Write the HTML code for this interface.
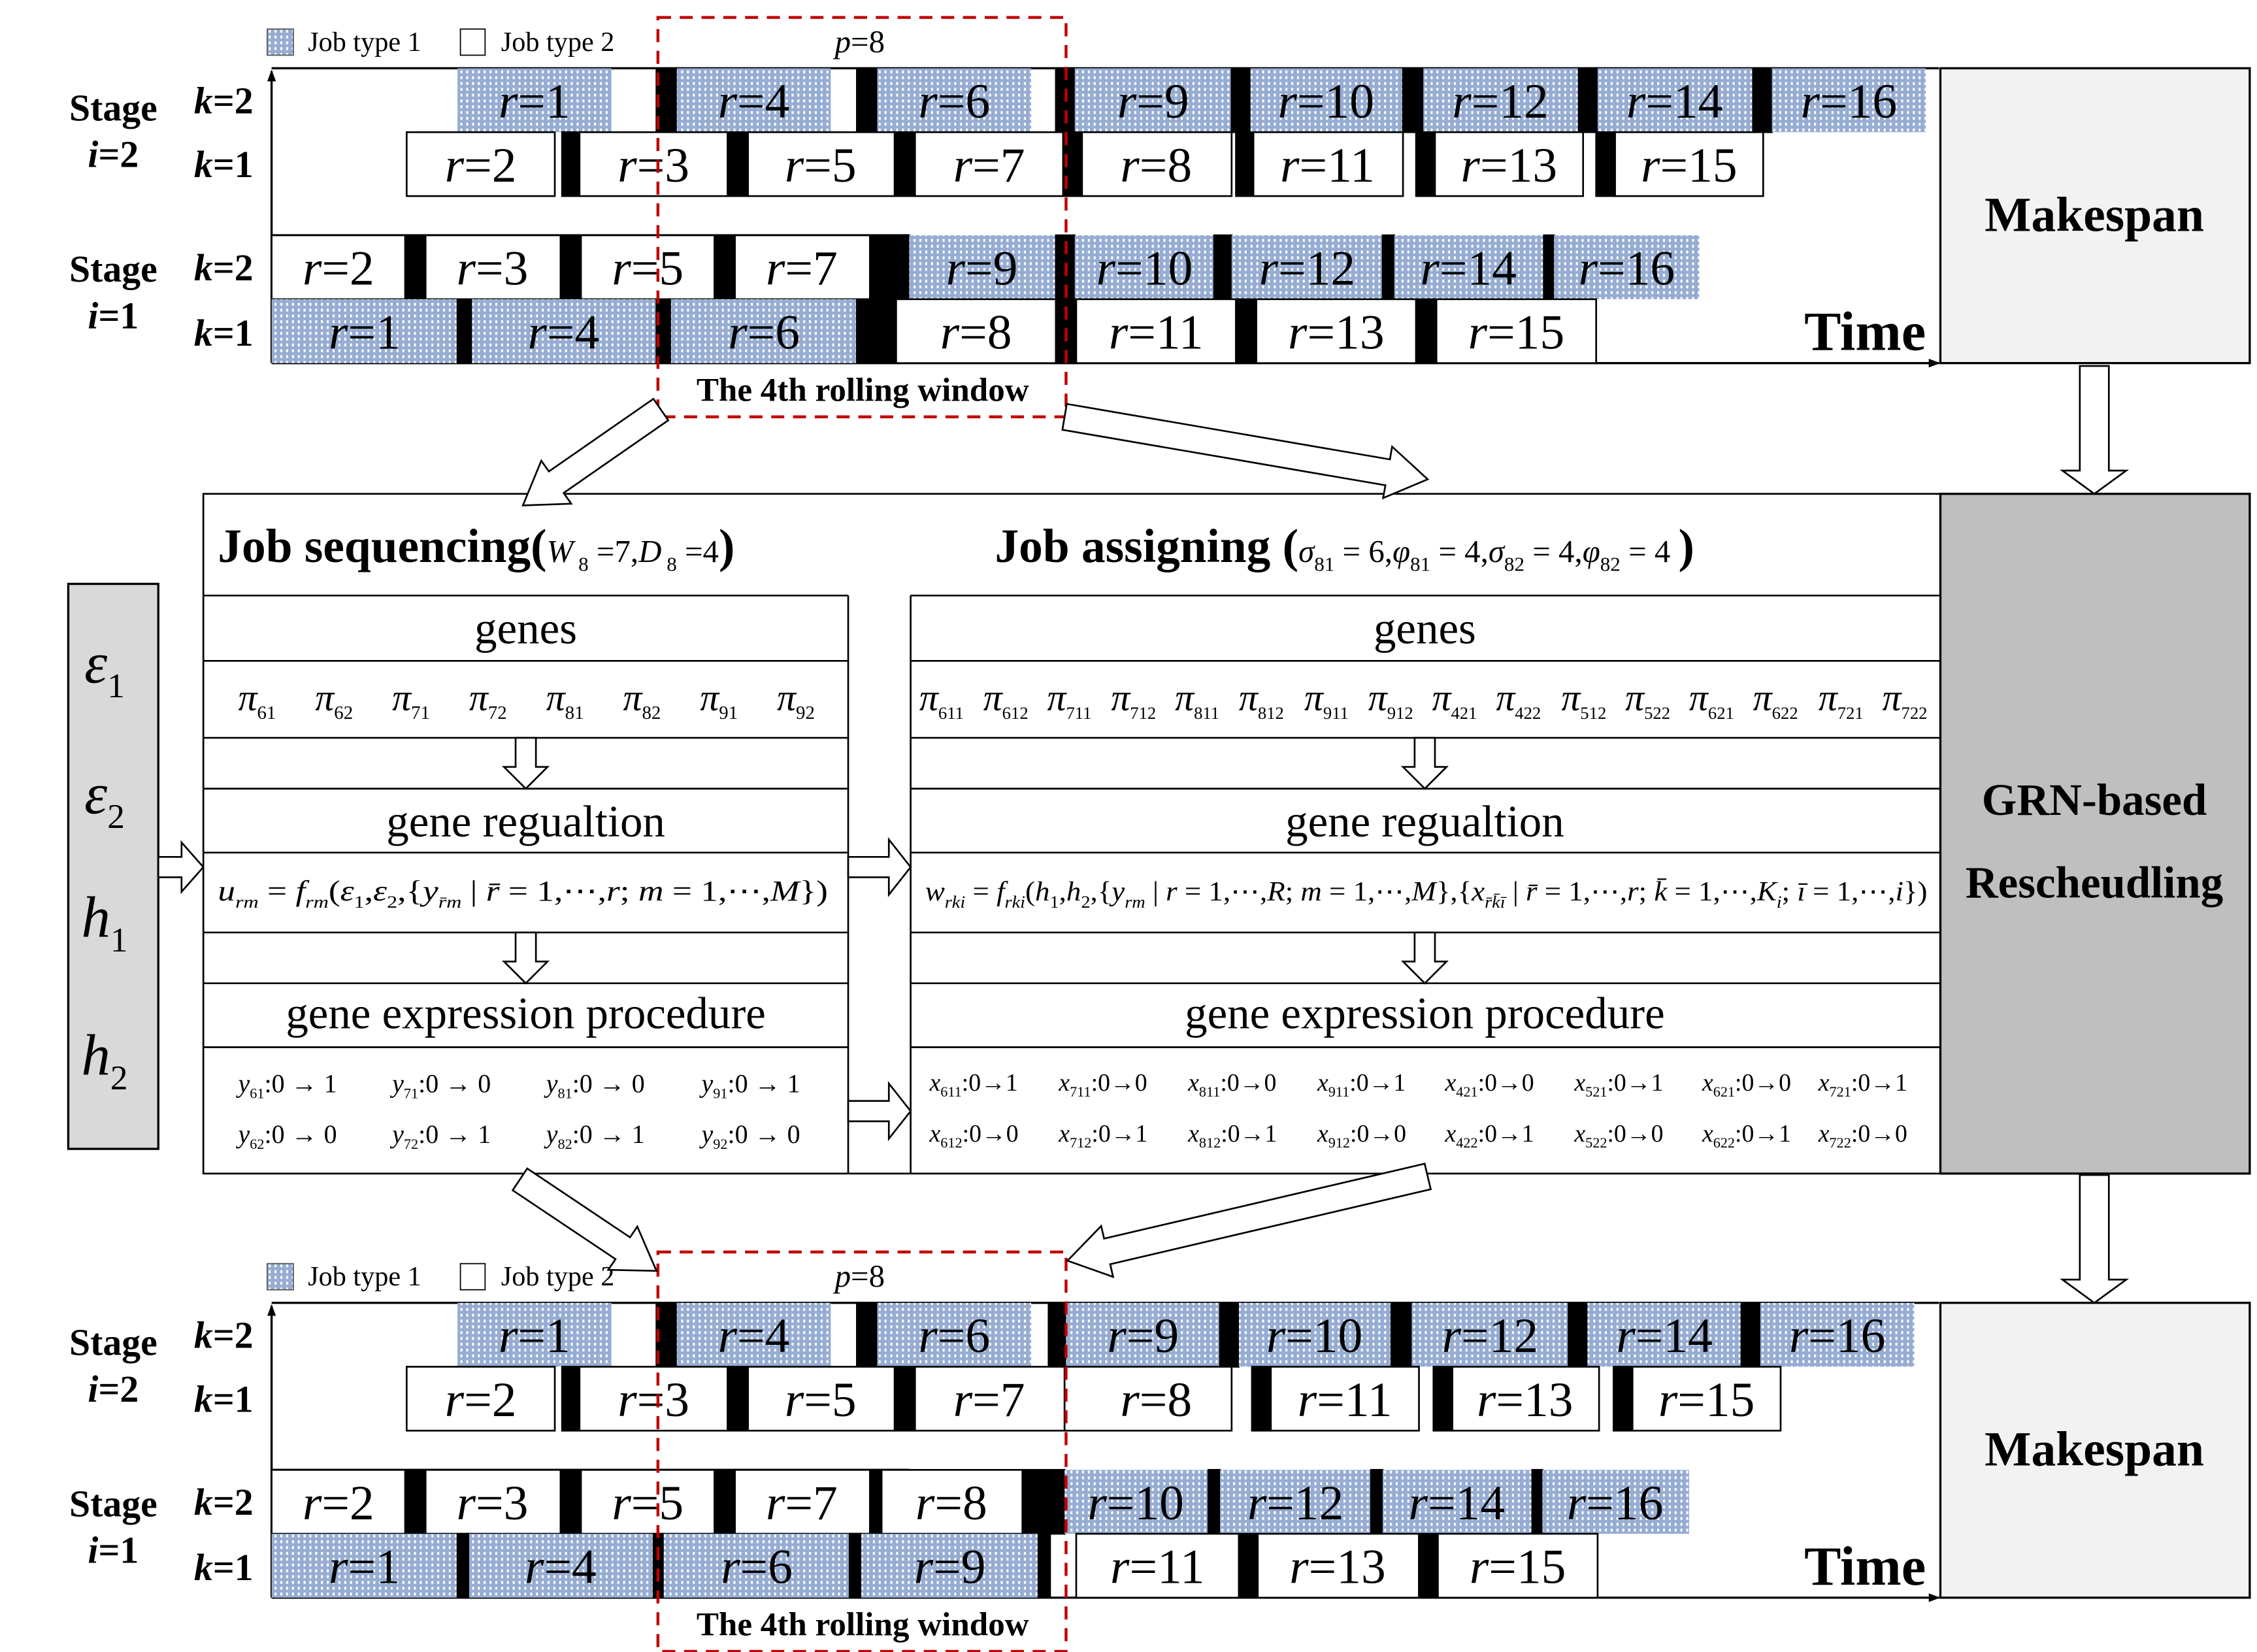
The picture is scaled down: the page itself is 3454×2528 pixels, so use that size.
<!DOCTYPE html>
<html><head><meta charset="utf-8"><style>
html,body{margin:0;padding:0;background:#fff}
svg{display:block}
text{font-family:"Liberation Serif",serif}
.r{font-size:34px;text-anchor:middle}
.b{font-weight:bold}
</style></head><body>
<svg width="3454" height="2528" viewBox="0 0 1554 1137.4" preserveAspectRatio="none" xmlns="http://www.w3.org/2000/svg">
<defs>
<pattern id="bp" width="4" height="4" patternUnits="userSpaceOnUse">
<rect width="4" height="4" fill="#96acd2"/><rect x="1" y="0.5" width="1.4" height="2" fill="#ffffff"/>
</pattern>
<marker id="ar" markerWidth="8" markerHeight="8" refX="7" refY="4" orient="auto" markerUnits="userSpaceOnUse"><path d="M0,1 L8,4 L0,7z" fill="#000"/></marker>
<g id="frame">
 <rect x="184" y="20" width="18" height="18" fill="url(#bp)" stroke="#555" stroke-width="0.8"/>
 <text x="212" y="35" font-size="19">Job type 1</text>
 <rect x="317" y="20" width="17" height="18" fill="#fff" stroke="#000" stroke-width="0.8"/>
 <text x="345" y="35" font-size="19">Job type 2</text>
 <text x="592" y="36" font-size="22" text-anchor="middle"><tspan font-style="italic">p</tspan>=8</text>
 <line x1="187" y1="47" x2="1335" y2="47" stroke="#000" stroke-width="1.5"/>
 <line x1="187" y1="250" x2="187" y2="49" stroke="#000" stroke-width="1.5" marker-end="url(#ar)"/>
 <line x1="187" y1="250" x2="1335" y2="250" stroke="#000" stroke-width="1.5" marker-end="url(#ar)"/>
 <line x1="187" y1="162" x2="626" y2="162" stroke="#000" stroke-width="1.5"/>
 <text x="78" y="83" font-size="26" class="b" text-anchor="middle">Stage</text>
 <text x="78" y="115" font-size="26" class="b" text-anchor="middle"><tspan font-style="italic">i</tspan>=2</text>
 <text x="154" y="78" font-size="26" class="b" text-anchor="middle"><tspan font-style="italic">k</tspan>=2</text>
 <text x="154" y="122" font-size="26" class="b" text-anchor="middle"><tspan font-style="italic">k</tspan>=1</text>
 <text x="78" y="194" font-size="26" class="b" text-anchor="middle">Stage</text>
 <text x="78" y="226" font-size="26" class="b" text-anchor="middle"><tspan font-style="italic">i</tspan>=1</text>
 <text x="154" y="193" font-size="26" class="b" text-anchor="middle"><tspan font-style="italic">k</tspan>=2</text>
 <text x="154" y="238" font-size="26" class="b" text-anchor="middle"><tspan font-style="italic">k</tspan>=1</text>
 <text x="1326" y="241" font-size="38" class="b" text-anchor="end">Time</text>
 <text x="594" y="276" font-size="23" class="b" text-anchor="middle">The 4th rolling window</text>
 <rect x="1336" y="47" width="213" height="203" fill="#f2f2f2" stroke="#000" stroke-width="1.5"/>
 <text x="1442" y="159" font-size="34" class="b" text-anchor="middle">Makespan</text>
</g>
<g id="redbox"><rect x="453" y="12" width="281" height="275" fill="none" stroke="#c00000" stroke-width="2" stroke-dasharray="9,6"/></g>
</defs>

<use href="#frame"/>
<use href="#frame" transform="translate(0,850)"/>

<g stroke="#000" stroke-width="1.2">
<!-- TOP R1 y47 -->
<rect x="315" y="47" width="106" height="44" fill="url(#bp)" stroke="none"/><rect x="452" y="47" width="14" height="44" fill="#000"/>
<rect x="466" y="47" width="106" height="44" fill="url(#bp)" stroke="none"/><rect x="590" y="47" width="14" height="44" fill="#000"/>
<rect x="604" y="47" width="106" height="44" fill="url(#bp)" stroke="none"/><rect x="727" y="47" width="13" height="44" fill="#000"/>
<rect x="740" y="47" width="108" height="44" fill="url(#bp)" stroke="none"/><rect x="848" y="47" width="13" height="44" fill="#000"/>
<rect x="861" y="47" width="105" height="44" fill="url(#bp)" stroke="none"/><rect x="966" y="47" width="14" height="44" fill="#000"/>
<rect x="980" y="47" width="107" height="44" fill="url(#bp)" stroke="none"/><rect x="1087" y="47" width="13" height="44" fill="#000"/>
<rect x="1100" y="47" width="107" height="44" fill="url(#bp)" stroke="none"/><rect x="1207" y="47" width="13" height="44" fill="#000"/>
<rect x="1220" y="47" width="106" height="44" fill="url(#bp)" stroke="none"/>
<!-- TOP R2 y91 -->
<rect x="280" y="91" width="102" height="44" fill="#fff"/><rect x="387" y="91" width="12" height="44" fill="#000"/>
<rect x="399" y="91" width="102" height="44" fill="#fff"/><rect x="501" y="91" width="14" height="44" fill="#000"/>
<rect x="515" y="91" width="101" height="44" fill="#fff"/><rect x="616" y="91" width="14" height="44" fill="#000"/>
<rect x="630" y="91" width="102" height="44" fill="#fff"/><rect x="732" y="91" width="13" height="44" fill="#000"/>
<rect x="745" y="91" width="103" height="44" fill="#fff"/><rect x="851" y="91" width="12" height="44" fill="#000"/>
<rect x="863" y="91" width="103" height="44" fill="#fff"/><rect x="975" y="91" width="13" height="44" fill="#000"/>
<rect x="988" y="91" width="102" height="44" fill="#fff"/><rect x="1099" y="91" width="13" height="44" fill="#000"/>
<rect x="1112" y="91" width="102" height="44" fill="#fff"/>
<!-- TOP R3 y162 -->
<rect x="187" y="162" width="92" height="44" fill="#fff"/><rect x="279" y="162" width="14" height="44" fill="#000"/>
<rect x="293" y="162" width="93" height="44" fill="#fff"/><rect x="386" y="162" width="14" height="44" fill="#000"/>
<rect x="400" y="162" width="92" height="44" fill="#fff"/><rect x="492" y="162" width="14" height="44" fill="#000"/>
<rect x="506" y="162" width="93" height="44" fill="#fff"/><rect x="599" y="162" width="27" height="44" fill="#000"/>
<rect x="626" y="162" width="101" height="44" fill="url(#bp)" stroke="none"/><rect x="727" y="162" width="13" height="44" fill="#000"/>
<rect x="740" y="162" width="96" height="44" fill="url(#bp)" stroke="none"/><rect x="836" y="162" width="12" height="44" fill="#000"/>
<rect x="848" y="162" width="104" height="44" fill="url(#bp)" stroke="none"/><rect x="952" y="162" width="8" height="44" fill="#000"/>
<rect x="960" y="162" width="103" height="44" fill="url(#bp)" stroke="none"/><rect x="1063" y="162" width="7" height="44" fill="#000"/>
<rect x="1070" y="162" width="100" height="44" fill="url(#bp)" stroke="none"/>
<!-- TOP R4 y206 -->
<rect x="187" y="206" width="128" height="44" fill="url(#bp)" stroke="none"/><rect x="315" y="206" width="10" height="44" fill="#000"/>
<rect x="325" y="206" width="127" height="44" fill="url(#bp)" stroke="none"/><rect x="452" y="206" width="10" height="44" fill="#000"/>
<rect x="462" y="206" width="128" height="44" fill="url(#bp)" stroke="none"/><rect x="590" y="206" width="27" height="44" fill="#000"/>
<rect x="617" y="206" width="110" height="44" fill="#fff"/><rect x="727" y="206" width="14" height="44" fill="#000"/>
<rect x="741" y="206" width="110" height="44" fill="#fff"/><rect x="851" y="206" width="14" height="44" fill="#000"/>
<rect x="865" y="206" width="110" height="44" fill="#fff"/><rect x="975" y="206" width="14" height="44" fill="#000"/>
<rect x="989" y="206" width="110" height="44" fill="#fff"/>

<!-- BOTTOM R1 y897 -->
<rect x="315" y="897" width="106" height="44" fill="url(#bp)" stroke="none"/><rect x="452" y="897" width="14" height="44" fill="#000"/>
<rect x="466" y="897" width="106" height="44" fill="url(#bp)" stroke="none"/><rect x="590" y="897" width="14" height="44" fill="#000"/>
<rect x="604" y="897" width="106" height="44" fill="url(#bp)" stroke="none"/><rect x="722" y="897" width="12" height="44" fill="#000"/>
<rect x="734" y="897" width="106" height="44" fill="url(#bp)" stroke="none"/><rect x="840" y="897" width="13" height="44" fill="#000"/>
<rect x="853" y="897" width="105" height="44" fill="url(#bp)" stroke="none"/><rect x="958" y="897" width="14" height="44" fill="#000"/>
<rect x="972" y="897" width="108" height="44" fill="url(#bp)" stroke="none"/><rect x="1080" y="897" width="13" height="44" fill="#000"/>
<rect x="1093" y="897" width="106" height="44" fill="url(#bp)" stroke="none"/><rect x="1199" y="897" width="13" height="44" fill="#000"/>
<rect x="1212" y="897" width="106" height="44" fill="url(#bp)" stroke="none"/>
<!-- BOTTOM R2 y941 -->
<rect x="280" y="941" width="102" height="44" fill="#fff"/><rect x="387" y="941" width="12" height="44" fill="#000"/>
<rect x="399" y="941" width="102" height="44" fill="#fff"/><rect x="501" y="941" width="14" height="44" fill="#000"/>
<rect x="515" y="941" width="101" height="44" fill="#fff"/><rect x="616" y="941" width="14" height="44" fill="#000"/>
<rect x="630" y="941" width="103" height="44" fill="#fff"/>
<rect x="733" y="941" width="115" height="44" fill="#fff"/><rect x="862" y="941" width="13" height="44" fill="#000"/>
<rect x="875" y="941" width="102" height="44" fill="#fff"/><rect x="987" y="941" width="13" height="44" fill="#000"/>
<rect x="1000" y="941" width="101" height="44" fill="#fff"/><rect x="1111" y="941" width="13" height="44" fill="#000"/>
<rect x="1124" y="941" width="102" height="44" fill="#fff"/>
<!-- BOTTOM R3 y1012 -->
<rect x="187" y="1012" width="92" height="44" fill="#fff"/><rect x="279" y="1012" width="14" height="44" fill="#000"/>
<rect x="293" y="1012" width="93" height="44" fill="#fff"/><rect x="386" y="1012" width="14" height="44" fill="#000"/>
<rect x="400" y="1012" width="92" height="44" fill="#fff"/><rect x="492" y="1012" width="14" height="44" fill="#000"/>
<rect x="506" y="1012" width="93" height="44" fill="#fff"/><rect x="599" y="1012" width="8" height="44" fill="#000"/>
<rect x="607" y="1012" width="97" height="44" fill="#fff"/><rect x="704" y="1012" width="29" height="44" fill="#000"/>
<rect x="733" y="1012" width="99" height="44" fill="url(#bp)" stroke="none"/><rect x="832" y="1012" width="8" height="44" fill="#000"/>
<rect x="840" y="1012" width="104" height="44" fill="url(#bp)" stroke="none"/><rect x="944" y="1012" width="8" height="44" fill="#000"/>
<rect x="952" y="1012" width="103" height="44" fill="url(#bp)" stroke="none"/><rect x="1055" y="1012" width="7" height="44" fill="#000"/>
<rect x="1062" y="1012" width="101" height="44" fill="url(#bp)" stroke="none"/>
<!-- BOTTOM R4 y1056 -->
<rect x="187" y="1056" width="128" height="44" fill="url(#bp)" stroke="none"/><rect x="315" y="1056" width="8" height="44" fill="#000"/>
<rect x="323" y="1056" width="127" height="44" fill="url(#bp)" stroke="none"/><rect x="450" y="1056" width="7" height="44" fill="#000"/>
<rect x="457" y="1056" width="128" height="44" fill="url(#bp)" stroke="none"/><rect x="585" y="1056" width="8" height="44" fill="#000"/>
<rect x="593" y="1056" width="122" height="44" fill="url(#bp)" stroke="none"/><rect x="715" y="1056" width="8" height="44" fill="#000"/>
<rect x="741" y="1056" width="112" height="44" fill="#fff"/><rect x="853" y="1056" width="13" height="44" fill="#000"/>
<rect x="866" y="1056" width="111" height="44" fill="#fff"/><rect x="977" y="1056" width="13" height="44" fill="#000"/>
<rect x="990" y="1056" width="110" height="44" fill="#fff"/>
</g>

<g class="r">
<!-- top labels -->
<text x="368" y="81" class="r"><tspan font-style="italic">r</tspan>=1</text>
<text x="519" y="81" class="r"><tspan font-style="italic">r</tspan>=4</text>
<text x="657" y="81" class="r"><tspan font-style="italic">r</tspan>=6</text>
<text x="794" y="81" class="r"><tspan font-style="italic">r</tspan>=9</text>
<text x="913" y="81" class="r"><tspan font-style="italic">r</tspan>=10</text>
<text x="1033" y="81" class="r"><tspan font-style="italic">r</tspan>=12</text>
<text x="1153" y="81" class="r"><tspan font-style="italic">r</tspan>=14</text>
<text x="1273" y="81" class="r"><tspan font-style="italic">r</tspan>=16</text>
<text x="331" y="125" class="r"><tspan font-style="italic">r</tspan>=2</text>
<text x="450" y="125" class="r"><tspan font-style="italic">r</tspan>=3</text>
<text x="565" y="125" class="r"><tspan font-style="italic">r</tspan>=5</text>
<text x="681" y="125" class="r"><tspan font-style="italic">r</tspan>=7</text>
<text x="796" y="125" class="r"><tspan font-style="italic">r</tspan>=8</text>
<text x="914" y="125" class="r"><tspan font-style="italic">r</tspan>=11</text>
<text x="1039" y="125" class="r"><tspan font-style="italic">r</tspan>=13</text>
<text x="1163" y="125" class="r"><tspan font-style="italic">r</tspan>=15</text>
<text x="233" y="196" class="r"><tspan font-style="italic">r</tspan>=2</text>
<text x="339" y="196" class="r"><tspan font-style="italic">r</tspan>=3</text>
<text x="446" y="196" class="r"><tspan font-style="italic">r</tspan>=5</text>
<text x="552" y="196" class="r"><tspan font-style="italic">r</tspan>=7</text>
<text x="676" y="196" class="r"><tspan font-style="italic">r</tspan>=9</text>
<text x="788" y="196" class="r"><tspan font-style="italic">r</tspan>=10</text>
<text x="900" y="196" class="r"><tspan font-style="italic">r</tspan>=12</text>
<text x="1011" y="196" class="r"><tspan font-style="italic">r</tspan>=14</text>
<text x="1120" y="196" class="r"><tspan font-style="italic">r</tspan>=16</text>
<text x="251" y="240" class="r"><tspan font-style="italic">r</tspan>=1</text>
<text x="388" y="240" class="r"><tspan font-style="italic">r</tspan>=4</text>
<text x="526" y="240" class="r"><tspan font-style="italic">r</tspan>=6</text>
<text x="672" y="240" class="r"><tspan font-style="italic">r</tspan>=8</text>
<text x="796" y="240" class="r"><tspan font-style="italic">r</tspan>=11</text>
<text x="920" y="240" class="r"><tspan font-style="italic">r</tspan>=13</text>
<text x="1044" y="240" class="r"><tspan font-style="italic">r</tspan>=15</text>
<!-- bottom labels -->
<text x="368" y="931" class="r"><tspan font-style="italic">r</tspan>=1</text>
<text x="519" y="931" class="r"><tspan font-style="italic">r</tspan>=4</text>
<text x="657" y="931" class="r"><tspan font-style="italic">r</tspan>=6</text>
<text x="787" y="931" class="r"><tspan font-style="italic">r</tspan>=9</text>
<text x="905" y="931" class="r"><tspan font-style="italic">r</tspan>=10</text>
<text x="1026" y="931" class="r"><tspan font-style="italic">r</tspan>=12</text>
<text x="1146" y="931" class="r"><tspan font-style="italic">r</tspan>=14</text>
<text x="1265" y="931" class="r"><tspan font-style="italic">r</tspan>=16</text>
<text x="331" y="975" class="r"><tspan font-style="italic">r</tspan>=2</text>
<text x="450" y="975" class="r"><tspan font-style="italic">r</tspan>=3</text>
<text x="565" y="975" class="r"><tspan font-style="italic">r</tspan>=5</text>
<text x="681" y="975" class="r"><tspan font-style="italic">r</tspan>=7</text>
<text x="796" y="975" class="r"><tspan font-style="italic">r</tspan>=8</text>
<text x="926" y="975" class="r"><tspan font-style="italic">r</tspan>=11</text>
<text x="1050" y="975" class="r"><tspan font-style="italic">r</tspan>=13</text>
<text x="1175" y="975" class="r"><tspan font-style="italic">r</tspan>=15</text>
<text x="233" y="1046" class="r"><tspan font-style="italic">r</tspan>=2</text>
<text x="339" y="1046" class="r"><tspan font-style="italic">r</tspan>=3</text>
<text x="446" y="1046" class="r"><tspan font-style="italic">r</tspan>=5</text>
<text x="552" y="1046" class="r"><tspan font-style="italic">r</tspan>=7</text>
<text x="655" y="1046" class="r"><tspan font-style="italic">r</tspan>=8</text>
<text x="782" y="1046" class="r"><tspan font-style="italic">r</tspan>=10</text>
<text x="892" y="1046" class="r"><tspan font-style="italic">r</tspan>=12</text>
<text x="1003" y="1046" class="r"><tspan font-style="italic">r</tspan>=14</text>
<text x="1112" y="1046" class="r"><tspan font-style="italic">r</tspan>=16</text>
<text x="251" y="1090" class="r"><tspan font-style="italic">r</tspan>=1</text>
<text x="386" y="1090" class="r"><tspan font-style="italic">r</tspan>=4</text>
<text x="521" y="1090" class="r"><tspan font-style="italic">r</tspan>=6</text>
<text x="654" y="1090" class="r"><tspan font-style="italic">r</tspan>=9</text>
<text x="797" y="1090" class="r"><tspan font-style="italic">r</tspan>=11</text>
<text x="921" y="1090" class="r"><tspan font-style="italic">r</tspan>=13</text>
<text x="1045" y="1090" class="r"><tspan font-style="italic">r</tspan>=15</text>
</g>

<use href="#redbox"/>
<use href="#redbox" transform="translate(0,850)"/>

<!-- middle section -->
<g stroke="#000" stroke-width="1.2" fill="none">
<rect x="140" y="340" width="1196" height="468" fill="#fff"/>
<line x1="140" y1="410" x2="584" y2="410"/><line x1="627" y1="410" x2="1336" y2="410"/>
<line x1="584" y1="410" x2="584" y2="808"/><line x1="627" y1="410" x2="627" y2="808"/>
<line x1="140" y1="455" x2="584" y2="455"/><line x1="627" y1="455" x2="1336" y2="455"/>
<line x1="140" y1="508" x2="584" y2="508"/><line x1="627" y1="508" x2="1336" y2="508"/>
<line x1="140" y1="543" x2="584" y2="543"/><line x1="627" y1="543" x2="1336" y2="543"/>
<line x1="140" y1="587" x2="584" y2="587"/><line x1="627" y1="587" x2="1336" y2="587"/>
<line x1="140" y1="642" x2="584" y2="642"/><line x1="627" y1="642" x2="1336" y2="642"/>
<line x1="140" y1="677" x2="584" y2="677"/><line x1="627" y1="677" x2="1336" y2="677"/>
<line x1="140" y1="721" x2="584" y2="721"/><line x1="627" y1="721" x2="1336" y2="721"/>
<rect x="1336" y="340" width="213" height="468" fill="#bfbfbf" stroke-width="1.5"/>
<rect x="47" y="402" width="62" height="389" fill="#d9d9d9" stroke-width="1.5"/>
</g>
<text x="1442" y="561" font-size="31" class="b" text-anchor="middle">GRN-based</text>
<text x="1442" y="618" font-size="31" class="b" text-anchor="middle">Rescheudling</text>
<g font-size="40" font-style="italic" text-anchor="middle">
<text x="72" y="470">ε<tspan font-size="24" font-style="normal" dy="10">1</tspan></text>
<text x="72" y="560">ε<tspan font-size="24" font-style="normal" dy="10">2</tspan></text>
<text x="72" y="645">h<tspan font-size="24" font-style="normal" dy="10">1</tspan></text>
<text x="72" y="740">h<tspan font-size="24" font-style="normal" dy="10">2</tspan></text>
</g>

<text x="150" y="387" font-size="33" class="b">Job sequencing(<tspan font-weight="normal" font-size="22"><tspan font-style="italic">W</tspan><tspan font-size="14" dy="6"> 8</tspan><tspan dy="-6"> =7,</tspan><tspan font-style="italic">D</tspan><tspan font-size="14" dy="6"> 8</tspan><tspan dy="-6"> =4</tspan></tspan>)</text>
<text x="685" y="387" font-size="33" class="b">Job assigning (<tspan font-weight="normal" font-size="22"><tspan font-style="italic">σ</tspan><tspan font-size="14" dy="6">81</tspan><tspan dy="-6"> = 6,</tspan><tspan font-style="italic">φ</tspan><tspan font-size="14" dy="6">81</tspan><tspan dy="-6"> = 4,</tspan><tspan font-style="italic">σ</tspan><tspan font-size="14" dy="6">82</tspan><tspan dy="-6"> = 4,</tspan><tspan font-style="italic">φ</tspan><tspan font-size="14" dy="6">82</tspan><tspan dy="-6"> = 4 </tspan></tspan>)</text>

<g font-size="31" text-anchor="middle">
<text x="362" y="443">genes</text><text x="981" y="443">genes</text>
<text x="362" y="576">gene regualtion</text><text x="981" y="576">gene regualtion</text>
<text x="362" y="708">gene expression procedure</text><text x="981" y="708">gene expression procedure</text>
</g>

<g font-size="26" font-style="italic">
<text x="164" y="489">π<tspan font-size="13" font-style="normal" dy="6">61</tspan></text>
<text x="217" y="489">π<tspan font-size="13" font-style="normal" dy="6">62</tspan></text>
<text x="270" y="489">π<tspan font-size="13" font-style="normal" dy="6">71</tspan></text>
<text x="323" y="489">π<tspan font-size="13" font-style="normal" dy="6">72</tspan></text>
<text x="376" y="489">π<tspan font-size="13" font-style="normal" dy="6">81</tspan></text>
<text x="429" y="489">π<tspan font-size="13" font-style="normal" dy="6">82</tspan></text>
<text x="482" y="489">π<tspan font-size="13" font-style="normal" dy="6">91</tspan></text>
<text x="535" y="489">π<tspan font-size="13" font-style="normal" dy="6">92</tspan></text>
</g>
<g font-size="26" font-style="italic">
<text x="633" y="489">π<tspan font-size="12" font-style="normal" dy="6">611</tspan></text>
<text x="677" y="489">π<tspan font-size="12" font-style="normal" dy="6">612</tspan></text>
<text x="721" y="489">π<tspan font-size="12" font-style="normal" dy="6">711</tspan></text>
<text x="765" y="489">π<tspan font-size="12" font-style="normal" dy="6">712</tspan></text>
<text x="809" y="489">π<tspan font-size="12" font-style="normal" dy="6">811</tspan></text>
<text x="853" y="489">π<tspan font-size="12" font-style="normal" dy="6">812</tspan></text>
<text x="898" y="489">π<tspan font-size="12" font-style="normal" dy="6">911</tspan></text>
<text x="942" y="489">π<tspan font-size="12" font-style="normal" dy="6">912</tspan></text>
<text x="986" y="489">π<tspan font-size="12" font-style="normal" dy="6">421</tspan></text>
<text x="1030" y="489">π<tspan font-size="12" font-style="normal" dy="6">422</tspan></text>
<text x="1075" y="489">π<tspan font-size="12" font-style="normal" dy="6">512</tspan></text>
<text x="1119" y="489">π<tspan font-size="12" font-style="normal" dy="6">522</tspan></text>
<text x="1163" y="489">π<tspan font-size="12" font-style="normal" dy="6">621</tspan></text>
<text x="1207" y="489">π<tspan font-size="12" font-style="normal" dy="6">622</tspan></text>
<text x="1252" y="489">π<tspan font-size="12" font-style="normal" dy="6">721</tspan></text>
<text x="1296" y="489">π<tspan font-size="12" font-style="normal" dy="6">722</tspan></text>
</g>

<text x="150" y="620" font-size="20" textLength="420" lengthAdjust="spacingAndGlyphs"><tspan font-style="italic">u</tspan><tspan font-size="12" font-style="italic" dy="5">rm</tspan><tspan dy="-5"> = </tspan><tspan font-style="italic">f</tspan><tspan font-size="12" font-style="italic" dy="5">rm</tspan><tspan dy="-5">(</tspan><tspan font-style="italic">ε</tspan><tspan font-size="12" dy="5">1</tspan><tspan dy="-5">,</tspan><tspan font-style="italic">ε</tspan><tspan font-size="12" dy="5">2</tspan><tspan dy="-5">,{</tspan><tspan font-style="italic">y</tspan><tspan font-size="12" font-style="italic" dy="5">r̄m</tspan><tspan dy="-5"> | </tspan><tspan font-style="italic">r̄</tspan> = 1,⋯,<tspan font-style="italic">r</tspan>; <tspan font-style="italic">m</tspan> = 1,⋯,<tspan font-style="italic">M</tspan>})</text>
<text x="637" y="620" font-size="19" textLength="690" lengthAdjust="spacingAndGlyphs"><tspan font-style="italic">w</tspan><tspan font-size="12" font-style="italic" dy="5">rki</tspan><tspan dy="-5"> = </tspan><tspan font-style="italic">f</tspan><tspan font-size="12" font-style="italic" dy="5">rki</tspan><tspan dy="-5">(</tspan><tspan font-style="italic">h</tspan><tspan font-size="12" dy="5">1</tspan><tspan dy="-5">,</tspan><tspan font-style="italic">h</tspan><tspan font-size="12" dy="5">2</tspan><tspan dy="-5">,{</tspan><tspan font-style="italic">y</tspan><tspan font-size="12" font-style="italic" dy="5">rm</tspan><tspan dy="-5"> | </tspan><tspan font-style="italic">r</tspan> = 1,⋯,<tspan font-style="italic">R</tspan>; <tspan font-style="italic">m</tspan> = 1,⋯,<tspan font-style="italic">M</tspan>},{<tspan font-style="italic">x</tspan><tspan font-size="12" font-style="italic" dy="5">r̄k̄ī</tspan><tspan dy="-5"> | </tspan><tspan font-style="italic">r̄</tspan> = 1,⋯,<tspan font-style="italic">r</tspan>; <tspan font-style="italic">k̄</tspan> = 1,⋯,<tspan font-style="italic">K</tspan><tspan font-size="12" font-style="italic" dy="5">i</tspan><tspan dy="-5">; </tspan><tspan font-style="italic">ī</tspan> = 1,⋯,<tspan font-style="italic">i</tspan>})</text>

<g font-size="18">
<text x="164" y="752"><tspan font-style="italic">y</tspan><tspan font-size="10" dy="4">61</tspan><tspan dy="-4">:0 → 1</tspan></text>
<text x="270" y="752"><tspan font-style="italic">y</tspan><tspan font-size="10" dy="4">71</tspan><tspan dy="-4">:0 → 0</tspan></text>
<text x="376" y="752"><tspan font-style="italic">y</tspan><tspan font-size="10" dy="4">81</tspan><tspan dy="-4">:0 → 0</tspan></text>
<text x="483" y="752"><tspan font-style="italic">y</tspan><tspan font-size="10" dy="4">91</tspan><tspan dy="-4">:0 → 1</tspan></text>
<text x="164" y="787"><tspan font-style="italic">y</tspan><tspan font-size="10" dy="4">62</tspan><tspan dy="-4">:0 → 0</tspan></text>
<text x="270" y="787"><tspan font-style="italic">y</tspan><tspan font-size="10" dy="4">72</tspan><tspan dy="-4">:0 → 1</tspan></text>
<text x="376" y="787"><tspan font-style="italic">y</tspan><tspan font-size="10" dy="4">82</tspan><tspan dy="-4">:0 → 1</tspan></text>
<text x="483" y="787"><tspan font-style="italic">y</tspan><tspan font-size="10" dy="4">92</tspan><tspan dy="-4">:0 → 0</tspan></text>
</g>
<g font-size="17">
<text x="640" y="751"><tspan font-style="italic">x</tspan><tspan font-size="10" dy="4">611</tspan><tspan dy="-4">:0→1</tspan></text>
<text x="729" y="751"><tspan font-style="italic">x</tspan><tspan font-size="10" dy="4">711</tspan><tspan dy="-4">:0→0</tspan></text>
<text x="818" y="751"><tspan font-style="italic">x</tspan><tspan font-size="10" dy="4">811</tspan><tspan dy="-4">:0→0</tspan></text>
<text x="907" y="751"><tspan font-style="italic">x</tspan><tspan font-size="10" dy="4">911</tspan><tspan dy="-4">:0→1</tspan></text>
<text x="995" y="751"><tspan font-style="italic">x</tspan><tspan font-size="10" dy="4">421</tspan><tspan dy="-4">:0→0</tspan></text>
<text x="1084" y="751"><tspan font-style="italic">x</tspan><tspan font-size="10" dy="4">521</tspan><tspan dy="-4">:0→1</tspan></text>
<text x="1172" y="751"><tspan font-style="italic">x</tspan><tspan font-size="10" dy="4">621</tspan><tspan dy="-4">:0→0</tspan></text>
<text x="1252" y="751"><tspan font-style="italic">x</tspan><tspan font-size="10" dy="4">721</tspan><tspan dy="-4">:0→1</tspan></text>
<text x="640" y="786"><tspan font-style="italic">x</tspan><tspan font-size="10" dy="4">612</tspan><tspan dy="-4">:0→0</tspan></text>
<text x="729" y="786"><tspan font-style="italic">x</tspan><tspan font-size="10" dy="4">712</tspan><tspan dy="-4">:0→1</tspan></text>
<text x="818" y="786"><tspan font-style="italic">x</tspan><tspan font-size="10" dy="4">812</tspan><tspan dy="-4">:0→1</tspan></text>
<text x="907" y="786"><tspan font-style="italic">x</tspan><tspan font-size="10" dy="4">912</tspan><tspan dy="-4">:0→0</tspan></text>
<text x="995" y="786"><tspan font-style="italic">x</tspan><tspan font-size="10" dy="4">422</tspan><tspan dy="-4">:0→1</tspan></text>
<text x="1084" y="786"><tspan font-style="italic">x</tspan><tspan font-size="10" dy="4">522</tspan><tspan dy="-4">:0→0</tspan></text>
<text x="1172" y="786"><tspan font-style="italic">x</tspan><tspan font-size="10" dy="4">622</tspan><tspan dy="-4">:0→1</tspan></text>
<text x="1252" y="786"><tspan font-style="italic">x</tspan><tspan font-size="10" dy="4">722</tspan><tspan dy="-4">:0→0</tspan></text>
</g>

<!-- hollow arrows -->
<g fill="#fff" stroke="#000" stroke-width="1.2">
<polygon points="460.1,289.4 388.1,339.4 393.3,346.8 360,348 372.7,317.2 377.9,324.6 449.9,274.6"/>
<polygon points="731.5,295.9 953.9,334.1 952.3,342.9 983,330 958.5,307.5 957,316.3 734.5,278.1"/>
<polygon points="353,819.5 423.8,866.9 418.8,874.3 452,875 438.8,844.5 433.8,851.9 363,804.5"/>
<polygon points="980.9,801.2 760.2,852.8 758.2,844.1 735,868 766.4,879.1 764.4,870.4 985.1,818.8"/>
<!-- vertical down arrows -->
<polygon points="355,508 369,508 369,528 377,528 362,543 347,528 355,528"/>
<polygon points="355,642 369,642 369,662 377,662 362,677 347,662 355,662"/>
<polygon points="974,508 988,508 988,528 996,528 981,543 966,528 974,528"/>
<polygon points="974,642 988,642 988,662 996,662 981,677 966,662 974,662"/>
<polygon points="1432,252 1452,252 1452,324 1464,324 1442,340 1420,324 1432,324"/>
<polygon points="1432,809 1452,809 1452,881 1464,881 1442,897 1420,881 1432,881"/>
<!-- right arrows -->
<polygon points="109,590 125,590 125,580 140,597 125,614 125,604 109,604"/>
<polygon points="584,590 612,590 612,578 627,597 612,616 612,604 584,604"/>
<polygon points="584,758 612,758 612,746 627,765 612,784 612,772 584,772"/>
</g>
</svg>
</body></html>
